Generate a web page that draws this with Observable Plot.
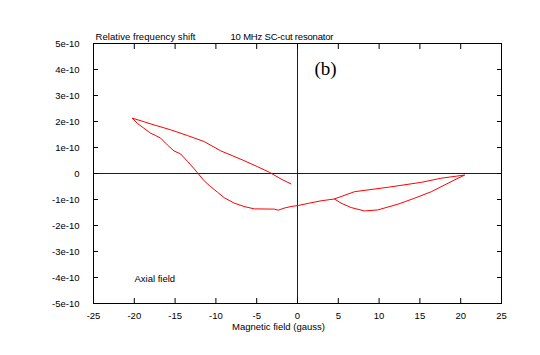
<!DOCTYPE html>
<html>
<head>
<meta charset="utf-8">
<script src="https://cdn.jsdelivr.net/npm/d3@7"></script>
<script src="https://cdn.jsdelivr.net/npm/@observablehq/plot@0.6"></script>
<style>
  html, body { margin: 0; padding: 0; background: #ffffff; }
  #chart { width: 540px; height: 355px; }
</style>
</head>
<body>
<div id="chart"></div>
<script>
// Tick values and labels
const xTicks = [-25, -20, -15, -10, -5, 0, 5, 10, 15, 20, 25];
const yTicks = [-5e-10, -4e-10, -3e-10, -2e-10, -1e-10, 0, 1e-10, 2e-10, 3e-10, 4e-10, 5e-10];
const yTickLabels = ["-5e-10", "-4e-10", "-3e-10", "-2e-10", "-1e-10", "0", "1e-10", "2e-10", "3e-10", "4e-10", "5e-10"];

// Hysteresis curve (magnetic field in gauss, relative frequency shift)
const fieldGauss = [
  -0.80, -2.03, -3.46, -4.89, -6.73, -9.40, -11.45, -13.49, -15.54, -17.59, -18.61, -20.25,
  -19.63, -18.82, -18.00, -17.38, -16.77, -15.95, -15.14, -14.31, -13.49, -13.08, -12.26,
  -11.45, -10.63, -9.80, -8.99, -7.76, -6.54, -5.31, -2.85, -2.36, -1.62, -0.80, 0.10,
  1.45, 2.89, 4.52, 6.98, 11.08, 15.17, 17.63, 20.49,
  19.68, 18.03, 16.40, 14.35, 12.31, 9.85, 8.21, 6.57, 5.34, 4.52
];
const freqShift = [
  -0.40e-10, -0.21e-10, 0.05e-10, 0.26e-10, 0.52e-10, 0.87e-10, 1.23e-10, 1.46e-10, 1.68e-10, 1.87e-10, 1.97e-10, 2.13e-10,
  1.93e-10, 1.74e-10, 1.55e-10, 1.46e-10, 1.36e-10, 1.10e-10, 0.87e-10, 0.75e-10, 0.47e-10, 0.33e-10, 0.03e-10,
  -0.28e-10, -0.51e-10, -0.72e-10, -0.93e-10, -1.14e-10, -1.27e-10, -1.36e-10, -1.37e-10, -1.41e-10, -1.33e-10, -1.27e-10, -1.23e-10,
  -1.14e-10, -1.05e-10, -0.98e-10, -0.70e-10, -0.53e-10, -0.34e-10, -0.18e-10, -0.06e-10,
  -0.18e-10, -0.44e-10, -0.70e-10, -0.95e-10, -1.18e-10, -1.40e-10, -1.44e-10, -1.31e-10, -1.14e-10, -0.98e-10
];

const titleLeft = "Relative frequency shift";
const titleRight = "10 MHz SC-cut resonator";
const panelTag = "(b)";
const noteText = "Axial field";
const xLabel = "Magnetic field (gauss)";

const curve = fieldGauss.map((x, i) => ({x, y: freqShift[i]}));

const chart = Plot.plot({
  width: 540,
  height: 355,
  marginLeft: 93,
  marginRight: 39,
  marginTop: 43,
  marginBottom: 52,
  style: {
    fontFamily: "'Liberation Sans', Arial, sans-serif",
    fontSize: "9.5px",
    background: "#ffffff",
    color: "#000000"
  },
  x: {domain: [-25, 25]},
  y: {domain: [-5e-10, 5e-10]},
  marks: [
    Plot.ruleY([0], {stroke: "#0000ff", strokeWidth: 1}),
    Plot.ruleX([0], {stroke: "#0000ff", strokeWidth: 1}),
    Plot.line(curve, {x: "x", y: "y", stroke: "#ff0000", strokeWidth: 1}),
    Plot.frame({stroke: "#000000"}),
    Plot.axisY(yTicks, {anchor: "left", tickSize: 5, dx: 5, tickPadding: 14,
      tickFormat: d => yTickLabels[yTicks.indexOf(d)], label: null}),
    Plot.axisY(yTicks, {anchor: "right", tickSize: 5, dx: -5, tickFormat: () => "", label: null}),
    Plot.axisX(xTicks, {anchor: "bottom", tickSize: 5, dy: -5, tickPadding: 9,
      tickFormat: d => String(d), label: null}),
    Plot.axisX(xTicks, {anchor: "top", tickSize: 5, dy: 5, tickFormat: () => "", label: null}),
    Plot.text([titleLeft], {frameAnchor: "top-left", dx: 2, dy: -10, textAnchor: "start"}),
    Plot.text([titleRight], {frameAnchor: "top-left", dx: 137, dy: -10, textAnchor: "start"}),
    Plot.text([panelTag], {frameAnchor: "top-left", dx: 221, dy: 18, textAnchor: "start",
      fontFamily: "'Liberation Serif', 'Times New Roman', serif", fontSize: 19}),
    Plot.text([noteText], {frameAnchor: "bottom-left", dx: 41, dy: -22, textAnchor: "start"}),
    Plot.text([xLabel], {frameAnchor: "bottom", dx: -19, dy: 26})
  ]
});

// Match the widths of the two header texts to the reference
d3.select(chart).selectAll("text")
  .filter(function () { return this.textContent === titleLeft; })
  .attr("textLength", 100).attr("lengthAdjust", "spacing");
d3.select(chart).selectAll("text")
  .filter(function () { return this.textContent === titleRight; })
  .attr("textLength", 103).attr("lengthAdjust", "spacing");

document.getElementById("chart").appendChild(chart);
</script>
</body>
</html>
